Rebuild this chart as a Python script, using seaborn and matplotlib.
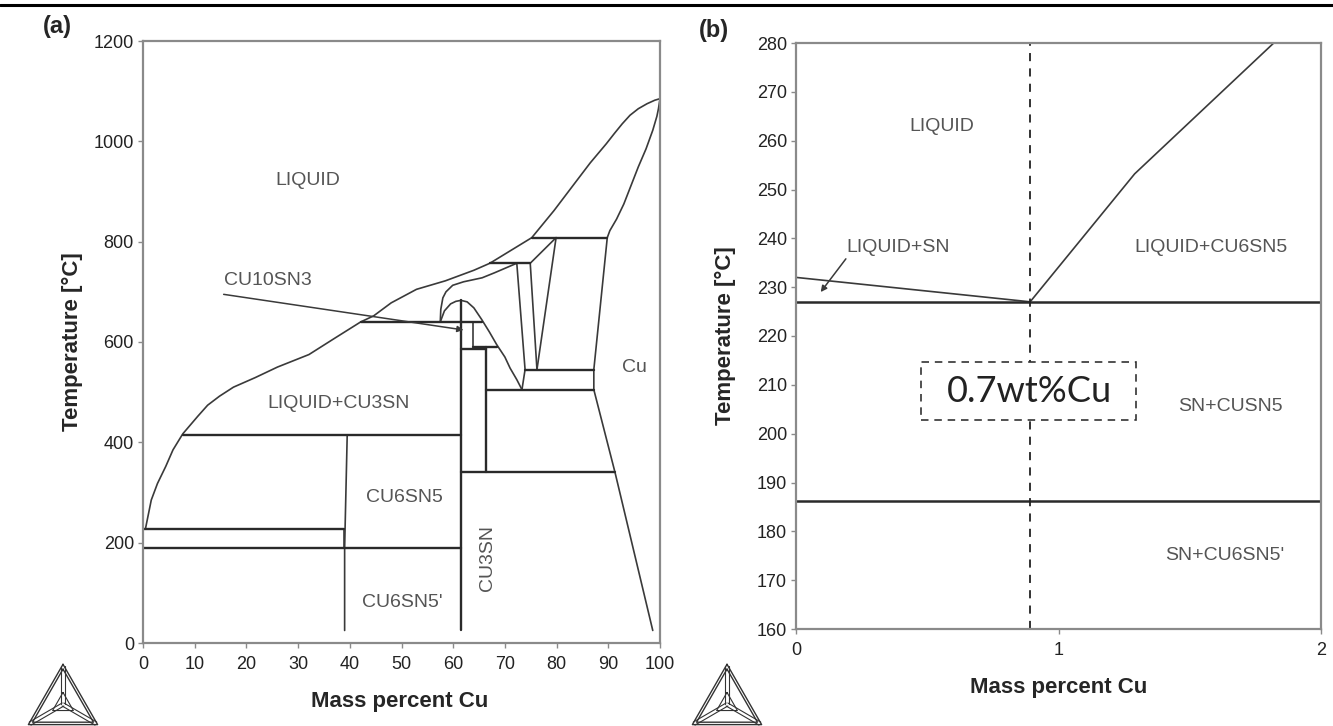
import numpy as np
import pandas as pd
import matplotlib
matplotlib.use("Agg")
import matplotlib.pyplot as plt
import seaborn as sns
from matplotlib.lines import Line2D
from matplotlib.patches import Rectangle

# ---------------- Panel (a) data : Sn-Cu phase diagram -----------------
liq_x = [100, 99, 97.5, 95.8, 94.2, 92.7, 91.2, 89.6, 86.5, 83.4, 79.5, 75.2, 67.1, 64,
         58.5, 52.9, 48, 44.6, 42.1, 37, 32.1, 26, 21.7, 17.5, 14.8, 12.5, 10.6, 7.7,
         5.8, 4.4, 2.8, 1.6, 0.5]
liq_T = [1085, 1082, 1075, 1065, 1052, 1035, 1016, 995, 957, 915, 862, 808, 757, 743,
         722, 705, 678, 652, 640, 607, 575, 550, 529, 510, 492, 474, 452, 417,
         385, 352, 318, 285, 229]
cu_x = [100, 99.7, 99.4, 98.6, 97.3, 95.8, 94.4, 93, 91.6, 90.3, 89.8, 87.2, 87.2, 91.3, 98.6]
cu_T = [1085, 1065, 1050, 1022, 985, 949, 912, 875, 845, 822, 808, 545, 505, 340, 25]
c2_x = [72.3, 68, 65.6, 62, 59.9, 58.6, 58, 57.6, 57.5]
c2_T = [757, 738, 728, 720, 713, 700, 688, 665, 640]
dome_x = [57.5, 58.3, 59.5, 60.5, 61.5, 62.7, 64, 65.5, 67, 68.4, 70, 71, 72.3, 73.3]
dome_T = [640, 662, 676, 681, 683, 680, 668, 645, 620, 595, 570, 548, 525, 505]
v1_x = [72.3, 73.9, 73.3]
v1_T = [757, 545, 505]
v2_x = [74.9, 76.2]
v2_T = [757, 545]
v3_x = [79.9, 76.2]
v3_T = [808, 545]
diag_x = [79.9, 74.9]
diag_T = [808, 757]
cu3sn_x = [61.5, 61.5]
cu3sn_T = [683, 25]
v639_x = [63.9, 63.9]
v639_T = [640, 591]
v664_x = [66.4, 66.4]
v664_T = [591, 340]
cu6sn5_x = [39.5, 39.0, 39.0]
cu6sn5_T = [415, 189, 25]
v388_x = [38.8, 38.8]
v388_T = [227, 189]
# isotherms: temperature, x start, x end
iso_T = [808, 757, 640, 591, 587, 545, 505, 415, 340, 227, 189]
iso_x0 = [75.2, 67.1, 42.1, 63.9, 61.5, 73.9, 66.4, 7.7, 61.5, 0, 0]
iso_x1 = [89.8, 74.9, 65.5, 68.4, 66.4, 87.2, 87.2, 61.5, 91.3, 38.8, 61.5]

labels_a = ["LIQUID", "LIQUID+CU3SN", "CU6SN5", "CU6SN5'", "Cu"]
labels_a_x = [31.9, 37.9, 50.6, 50.1, 95.0]
labels_a_T = [922, 478, 290, 80, 549]
cu3sn_label = "CU3SN"
cu3sn_label_pos = [66.7, 169]
cu10_label = "CU10SN3"
cu10_arrow_from = [15.6, 695]
cu10_arrow_to = [62.0, 624]
cu10_label_pos = [15.6, 722]

# ---------------- Panel (b) data : Sn-rich corner -----------------------
b_slope_x = [0, 0.892]
b_slope_T = [232, 227]
b_liq_x = [0.892, 1.29, 1.82]
b_liq_T = [227, 253.2, 280]
b_iso_T = [227, 186.2]
b_alloy_x = 0.89
b_box_x = [0.478, 1.296]
b_box_T = [202.8, 214.6]
b_box_label = "0.7wt%Cu"
labels_b = ["LIQUID", "LIQUID+SN", "LIQUID+CU6SN5", "SN+CUSN5", "SN+CU6SN5'"]
labels_b_x = [0.557, 0.39, 1.58, 1.654, 1.633]
labels_b_T = [262.8, 238.2, 238.2, 205.6, 175.0]
b_arrow_from = [0.19, 235.8]
b_arrow_to = [0.094, 229.0]

xticks_a = list(range(0, 101, 10))
yticks_a = list(range(0, 1201, 200))
xticks_b = [0, 1, 2]
yticks_b = list(range(160, 281, 10))

# ---------------- styling ------------------------------------------------
sns.set_theme(style="white")
plt.rcParams['font.family'] = ['Liberation Sans', 'DejaVu Sans']

LINE = "#3a3a3a"
TXT = "#555555"
SPINE = "#8a8a8a"
W, H = 1333, 726

fig = plt.figure(figsize=(W / 100, H / 100), dpi=100)
ax1 = fig.add_axes([143 / W, 1 - 643 / H, 517 / W, 602 / H])
ax2 = fig.add_axes([796 / W, 1 - 629 / H, 525 / W, 586 / H])


def segs_df(segs):
    rows = []
    for i, (xs, ts) in enumerate(segs):
        for k, (x, t) in enumerate(zip(xs, ts)):
            rows.append({"seg": i, "order": k, "x": x, "T": t})
    return pd.DataFrame(rows)


thin = [(liq_x, liq_T), (cu_x, cu_T), (c2_x, c2_T), (dome_x, dome_T), (v1_x, v1_T),
        (v2_x, v2_T), (v3_x, v3_T), (diag_x, diag_T), (v639_x, v639_T),
        (cu6sn5_x, cu6sn5_T), (v388_x, v388_T)]
thick = [([a, b], [t, t]) for t, a, b in zip(iso_T, iso_x0, iso_x1)]
thick += [(cu3sn_x, cu3sn_T), (v664_x, v664_T)]

sns.lineplot(data=segs_df(thin), x="x", y="T", units="seg", estimator=None, sort=False,
             color=LINE, lw=1.2, ax=ax1, legend=False)
sns.lineplot(data=segs_df(thick), x="x", y="T", units="seg", estimator=None, sort=False,
             color="#2a2a2a", lw=1.7, ax=ax1, legend=False)

for s, x, t in zip(labels_a, labels_a_x, labels_a_T):
    ax1.text(x, t, s, ha="center", va="center", fontsize=14, color=TXT)
ax1.text(*cu3sn_label_pos, cu3sn_label, rotation=90, ha="center", va="center",
         fontsize=14, color=TXT)
ax1.text(*cu10_label_pos, cu10_label, ha="left", va="center", fontsize=14, color=TXT)
ax1.annotate("", xy=cu10_arrow_to, xytext=cu10_arrow_from,
             arrowprops=dict(arrowstyle="-|>", color=LINE, lw=1.1, mutation_scale=9,
                             shrinkA=0, shrinkB=0))

ax1.set_xlim(0, 100)
ax1.set_ylim(0, 1200)
ax1.set_xticks(xticks_a)
ax1.set_yticks(yticks_a)

# panel (b)
b_thin = [(b_slope_x, b_slope_T), (b_liq_x, b_liq_T)]
b_thick = [([0, 2], [t, t]) for t in b_iso_T]
sns.lineplot(data=segs_df(b_thin), x="x", y="T", units="seg", estimator=None, sort=False,
             color=LINE, lw=1.2, ax=ax2, legend=False)
sns.lineplot(data=segs_df(b_thick), x="x", y="T", units="seg", estimator=None, sort=False,
             color="#2a2a2a", lw=1.8, ax=ax2, legend=False)
ax2.axvline(b_alloy_x, color="#222222", lw=1.3, ls=(0, (4.5, 4)), zorder=2)
ax2.add_patch(Rectangle((b_box_x[0], b_box_T[0]), b_box_x[1] - b_box_x[0],
                        b_box_T[1] - b_box_T[0], facecolor="white", edgecolor="#333333",
                        lw=1.2, ls=(0, (4.5, 3.5)), zorder=3))
ax2.text(b_alloy_x, (b_box_T[0] + b_box_T[1]) / 2, b_box_label, ha="center", va="center",
         fontsize=26, color="#222222", family=["Lato", "DejaVu Sans"], zorder=4)
for s, x, t in zip(labels_b, labels_b_x, labels_b_T):
    ax2.text(x, t, s, ha="center", va="center", fontsize=14, color=TXT)
ax2.annotate("", xy=b_arrow_to, xytext=b_arrow_from,
             arrowprops=dict(arrowstyle="-|>", color=LINE, lw=1.1, mutation_scale=9,
                             shrinkA=0, shrinkB=0))
ax2.set_xlim(0, 2)
ax2.set_ylim(160, 280)
ax2.set_xticks(xticks_b)
ax2.set_yticks(yticks_b)

for ax in (ax1, ax2):
    ax.set_xlabel("")
    ax.set_ylabel("")
    for sp in ax.spines.values():
        sp.set_visible(True)
        sp.set_color(SPINE)
        sp.set_linewidth(1.6)
    ax.tick_params(axis="both", which="both", direction="out", length=3.5, width=1,
                   color=SPINE, labelsize=13, labelcolor="#222222")
    ax.tick_params(axis="x", pad=6)
    ax.tick_params(axis="y", pad=3)
    ax.tick_params(left=True, bottom=True)

# axis titles and panel letters
fig.text(400 / W, 1 - 702 / H, "Mass percent Cu", ha="center", va="center",
         fontsize=16, fontweight="bold")
fig.text(1059 / W, 1 - 687 / H, "Mass percent Cu", ha="center", va="center",
         fontsize=16, fontweight="bold")
fig.text(72 / W, 1 - 342 / H, "Temperature [°C]", rotation=90, ha="center", va="center",
         fontsize=16, fontweight="bold")
fig.text(725 / W, 1 - 336 / H, "Temperature [°C]", rotation=90, ha="center", va="center",
         fontsize=16, fontweight="bold")
fig.text(57 / W, 1 - 27 / H, "(a)", ha="center", va="center", fontsize=17, fontweight="bold")
fig.text(714 / W, 1 - 30 / H, "(b)", ha="center", va="center", fontsize=17, fontweight="bold")
fig.add_artist(Line2D([0, 1], [1 - 5 / H, 1 - 5 / H], color="black", lw=2.2))

# Thermo-Calc style logos
logo_centers = [63, 727]
for cx in logo_centers:
    lax = fig.add_axes([(cx - 36) / W, 0, 72 / W, 62 / H])
    lax.set_xlim(-0.52, 0.52)
    lax.set_ylim(-0.02, 0.87)
    lax.axis("off")
    A = np.array([0, 0.866]); B = np.array([-0.5, 0]); C = np.array([0.5, 0])
    G = (A + B + C) / 3
    for s in (1.0, 0.88):
        P = [G + s * (V - G) for V in (A, B, C, A)]
        P = np.array(P)
        lax.plot(P[:, 0], P[:, 1], color="#333333", lw=1.0, clip_on=False)
    for V in (A, B, C):
        for off in (-0.025, 0.025):
            d = V - G
            n = np.array([-d[1], d[0]]) / np.linalg.norm(d)
            p0 = G + off * n
            p1 = G + 0.95 * d + off * n
            lax.plot([p0[0], p1[0]], [p0[1], p1[1]], color="#333333", lw=0.8, clip_on=False)
    P = np.array([G + 0.3 * (V - G) for V in (A, B, C, A)])
    lax.plot(P[:, 0], P[:, 1], color="#333333", lw=0.8)

fig.savefig("out.png", dpi=100)
